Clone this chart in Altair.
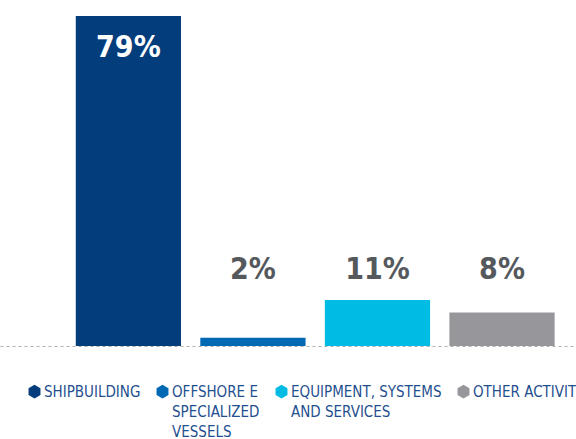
import altair as alt
import pandas as pd

categories = ["SHIPBUILDING", "OFFSHORE E SPECIALIZED VESSELS",
              "EQUIPMENT, SYSTEMS AND SERVICES", "OTHER ACTIVITIES"]
values = [79, 2, 11, 8]
labels = ["79%", "2%", "11%", "8%"]
colors = ["#033d7c", "#0069b4", "#00bbe4", "#97979b"]

df = pd.DataFrame({"cat": categories, "value": values, "label": labels})

FONT = "Liberation Sans Narrow, DejaVu Sans Condensed, sans-serif"

label_expr = ("datum.label == 'OFFSHORE E SPECIALIZED VESSELS' ? ['OFFSHORE E','SPECIALIZED','VESSELS'] : "
              "datum.label == 'EQUIPMENT, SYSTEMS AND SERVICES' ? ['EQUIPMENT, SYSTEMS','AND SERVICES',''] : "
              "[datum.label, '', '']")

# hexagon, drawn slightly below its anchor so it lines up with the first text line
HEX = "M-0.866,0.5L0,0L0.866,0.5L0.866,1.5L0,2L-0.866,1.5Z"

x_axis = alt.Axis(labels=False, ticks=False, title=None, domain=True, grid=False,
                  domainColor="#b0b0b0", domainDash=[3, 3], domainWidth=1)
x_scale = alt.Scale(paddingInner=0.155, paddingOuter=0.39, align=0.78)
y_scale = alt.Scale(domain=[0, 79], nice=False)

bars = alt.Chart(df).mark_bar().encode(
    x=alt.X("cat:N", sort=categories, scale=x_scale, axis=x_axis),
    y=alt.Y("value:Q", scale=y_scale, axis=None),
    color=alt.Color("cat:N", sort=categories,
                    scale=alt.Scale(domain=categories, range=colors),
                    legend=alt.Legend(title=None, orient="none", legendX=27, legendY=361,
                                      direction="horizontal", columns=4, columnPadding=14,
                                      symbolType=HEX,
                                      symbolSize=190, symbolStrokeWidth=0,
                                      labelFont=FONT, labelFontSize=15, labelColor="#1f4f8f",
                                      labelBaseline="top", labelLimit=300, labelOffset=2,
                                      labelExpr=label_expr)),
)

text = alt.Chart(df).transform_calculate(
    ly="datum.value > 50 ? datum.value - 7.7 : 18.2",
    tc="datum.value > 50 ? 'white' : '#55595d'"
).mark_text(font=FONT, fontSize=30, fontWeight="bold", baseline="middle").encode(
    x=alt.X("cat:N", sort=categories, scale=x_scale, axis=x_axis),
    y=alt.Y("ly:Q", scale=y_scale, axis=None),
    text="label:N",
    color=alt.Color("tc:N", scale=None),
)

chart = alt.layer(bars, text).properties(
    width=576, height=330,
    autosize=alt.AutoSizeParams(type="none"),
    padding={"left": 0, "top": 16, "right": 0, "bottom": 93},
).configure(
    background="white",
    view={"stroke": "transparent", "strokeWidth": 0},
    style={"guide-label": {"lineHeight": 20}},
)

chart.save("out.html", embed_options={"renderer": "svg", "actions": False})
